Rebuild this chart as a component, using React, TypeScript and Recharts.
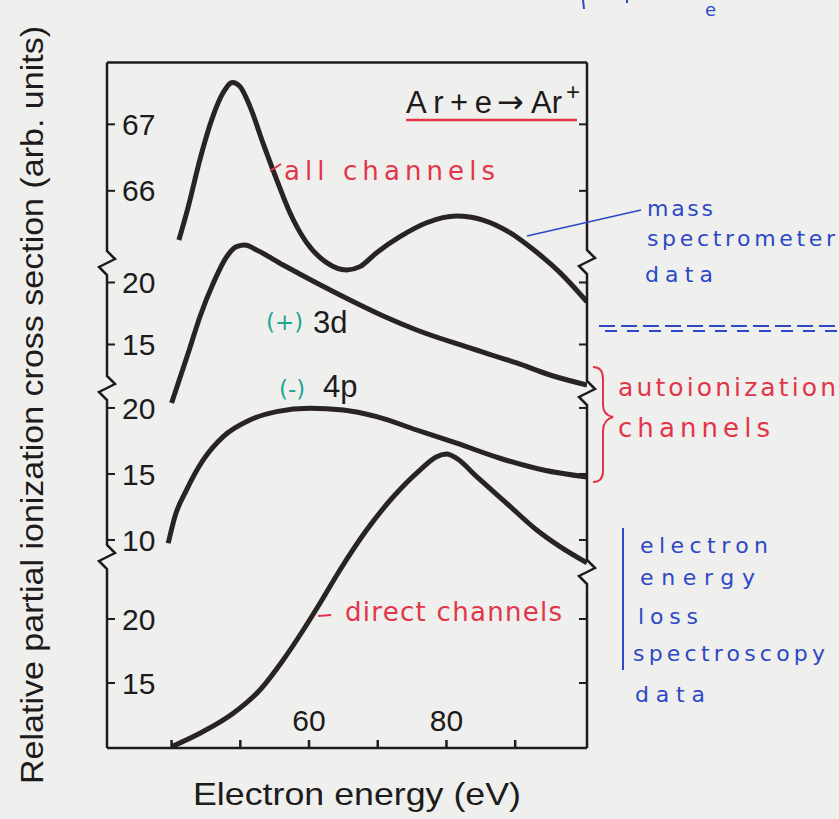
import React from "react";
import { LineChart, Line, XAxis, YAxis } from "recharts";

// energy axis (eV)
const energyTicks = [40, 50, 60, 70, 80, 90];
const energyLabels = [60, 80];

// tick values of the four stacked panels
const allTicks = [66, 67];
const d3Ticks = [15, 20];
const p4Ticks = [10, 15, 20];
const directTicks = [15, 20];

// all channels (mass spectrometer data)
const allEnergy = [41.06, 42.42, 44.12, 46.01, 47.47, 48.88, 49.94, 51.4, 53.29, 55.28, 57.22, 59.65, 62.56, 65.47, 67.41, 69.84, 73.23, 77.12, 81.48, 85.31, 89.24, 92.59, 96.52, 100.45];
const allValue = [65.26, 65.76, 66.47, 67.12, 67.47, 67.63, 67.57, 67.27, 66.72, 66.17, 65.67, 65.22, 64.92, 64.81, 64.86, 65.07, 65.31, 65.52, 65.62, 65.56, 65.37, 65.12, 64.77, 64.33];

// (+) 3d autoionization channel
const d3Energy = [40.0, 42.66, 44.12, 46.06, 48.01, 49.46, 50.67, 52.37, 56.24, 61.11, 65.95, 70.8, 75.66, 82.94, 90.22, 95.07, 100.45];
const d3Value = [10.28, 14.72, 17.24, 19.94, 22.08, 22.89, 23.02, 22.62, 21.41, 19.96, 18.59, 17.3, 16.17, 14.8, 13.51, 12.54, 11.73];

// (-) 4p autoionization channel
const p4Energy = [39.51, 40.48, 42.18, 44.6, 47.51, 51.4, 55.28, 60.13, 64.98, 69.84, 75.66, 81.48, 87.79, 94.09, 100.45];
const p4Value = [9.75, 11.77, 13.79, 16.06, 17.83, 19.09, 19.72, 19.98, 19.85, 19.34, 18.33, 17.33, 16.19, 15.3, 14.77];

// direct channels
const directEnergy = [40.0, 44.12, 48.97, 52.85, 56.24, 59.16, 61.59, 64.5, 68.38, 72.26, 76.14, 78.57, 80.03, 81.48, 84.4, 88.76, 93.13, 96.52, 100.45];
const directValue = [10.02, 11.07, 12.63, 14.45, 16.8, 19.14, 21.23, 23.83, 26.95, 29.55, 31.64, 32.68, 32.89, 32.55, 31.12, 29.04, 26.95, 25.65, 24.38];

const toPoints = (xs: number[], ys: number[]) => xs.map((e, i) => ({ e, v: ys[i] }));

const W = 839;
const H = 819;
const PL = 107;
const PR = 587;
const PT = 62.5;
const PB = 748;

const INK = "#1d1b1b";
const CURVE = "#2a2323";
const RED = "#e2354a";
const BLUE = "#2d48c6";
const TEAL = "#1ea58f";
const BG = "#efefed";
const SANS = "'Liberation Sans', Arial, sans-serif";
const HAND = "'DejaVu Sans', sans-serif";

// each panel gets its own value axis stretched over the whole plot height
const panels = [
  { id: "a", ticks: allTicks, domain: [57.62, 67.93], data: toPoints(allEnergy, allValue) },
  { id: "b", ticks: d3Ticks, domain: [-17.54, 37.74], data: toPoints(d3Energy, d3Value) },
  { id: "c", ticks: p4Ticks, domain: [-5.76, 46.17], data: toPoints(p4Energy, p4Value) },
  { id: "d", ticks: directTicks, domain: [9.92, 63.48], data: toPoints(directEnergy, directValue) },
];

const zig = (x: number, y: number) =>
  `L${x},${y - 12} L${x + 8},${y - 4} L${x - 8},${y + 4} L${x},${y + 12}`;

function Note({ x, y, w, color, size, children }: { x: number; y: number; w: number; color: string; size: number; children: string }) {
  return (
    <text x={x} y={y} fontFamily={HAND} fontSize={size} fill={color} textLength={w} lengthAdjust="spacing">
      {children}
    </text>
  );
}

function Overlay() {
  const leftBreaks = [263, 388, 557];
  const rightBreaks = [262, 393, 572];
  return (
    <svg width={W} height={H} style={{ position: "absolute", left: 0, top: 0, pointerEvents: "none" }}>
      {/* frame sides with axis breaks */}
      <path d={`M${PL},${PT} ${leftBreaks.map((y) => zig(PL, y)).join(" ")} L${PL},${PB}`} fill="none" stroke={INK} strokeWidth={2.5} />
      <path d={`M${PR},${PT} ${rightBreaks.map((y) => zig(PR, y)).join(" ")} L${PR},${PB}`} fill="none" stroke={INK} strokeWidth={2.5} />

      {/* axis titles */}
      <text transform="translate(43,405) rotate(-90)" textAnchor="middle" fontFamily={SANS} fontSize={32} fill={INK} textLength={758} lengthAdjust="spacingAndGlyphs">
        Relative partial ionization cross section (arb. units)
      </text>
      <text x={193} y={805} fontFamily={SANS} fontSize={32} fill={INK} textLength={328} lengthAdjust="spacingAndGlyphs">
        Electron energy (eV)
      </text>

      {/* reaction */}
      <text y={113} fontFamily={SANS} fontSize={31} fill={INK}>
        <tspan x={406} textLength={86} lengthAdjust="spacing">Ar+e</tspan>
        <tspan x={497} fontFamily={HAND} fontSize={32}>→</tspan>
        <tspan x={531}>Ar</tspan>
        <tspan x={566} dy={-13} fontSize={24}>+</tspan>
      </text>
      <line x1={406} y1={120} x2={577} y2={120} stroke={RED} strokeWidth={2.5} />

      {/* channel labels */}
      <text x={266} y={330} fontFamily={HAND} fontSize={23} fill={TEAL}>(+)</text>
      <text x={313} y={333} fontFamily={SANS} fontSize={31} fill={INK}>3d</text>
      <text x={279} y={397} fontFamily={HAND} fontSize={23} fill={TEAL}>(-)</text>
      <text x={323} y={397} fontFamily={SANS} fontSize={31} fill={INK}>4p</text>

      {/* red notes */}
      <line x1={270} y1={171} x2={281} y2={164} stroke={RED} strokeWidth={2} />
      <Note x={284} y={180} w={211} color={RED} size={26}>all channels</Note>
      <line x1={318} y1={616} x2={331} y2={615} stroke={RED} strokeWidth={2} />
      <Note x={345} y={621} w={217} color={RED} size={26}>direct channels</Note>
      <path d="M593,367 Q603,367 603,379 L603,405 Q603,415 613,417 Q603,420 603,431 L603,471 Q603,482 593,482" fill="none" stroke={RED} strokeWidth={2} />
      <Note x={618} y={396} w={218} color={RED} size={25}>autoionization</Note>
      <Note x={618} y={437} w={152} color={RED} size={26}>channels</Note>

      {/* blue notes */}
      <line x1={527} y1={236} x2={641} y2={210} stroke={BLUE} strokeWidth={1.5} />
      <Note x={647} y={216} w={66} color={BLUE} size={22}>mass</Note>
      <Note x={647} y={246} w={188} color={BLUE} size={22}>spectrometer</Note>
      <Note x={645} y={282} w={68} color={BLUE} size={22}>data</Note>
      <line x1={599} y1={326} x2={837} y2={326} stroke={BLUE} strokeWidth={2} strokeDasharray="16 6" />
      <line x1={605} y1={331} x2={837} y2={331} stroke={BLUE} strokeWidth={2} strokeDasharray="12 10" />
      <line x1={623} y1={528} x2={623} y2={670} stroke={BLUE} strokeWidth={2} />
      <Note x={640} y={553} w={128} color={BLUE} size={22}>electron</Note>
      <Note x={640} y={585} w={115} color={BLUE} size={22}>energy</Note>
      <Note x={638} y={624} w={60} color={BLUE} size={22}>loss</Note>
      <Note x={633} y={661} w={192} color={BLUE} size={22}>spectroscopy</Note>
      <Note x={635} y={702} w={70} color={BLUE} size={22}>data</Note>
      <line x1={583} y1={0} x2={584} y2={9} stroke={BLUE} strokeWidth={2} />
      <line x1={627} y1={0} x2={627} y2={3} stroke={BLUE} strokeWidth={2} />
      <text x={705} y={16} fontFamily={HAND} fontSize={18} fill={BLUE}>e</text>
    </svg>
  );
}

export default function App() {
  return (
    <div style={{ position: "absolute", left: 0, top: 0, width: W, height: H, background: BG }}>
      <LineChart width={W} height={H} margin={{ top: PT, right: W - PR, bottom: H - PB, left: PL }}>
        <XAxis
          xAxisId="bottom"
          orientation="bottom"
          mirror
          dataKey="e"
          type="number"
          domain={[30.6, 100.45]}
          allowDataOverflow
          ticks={energyTicks}
          interval={0}
          stroke={INK}
          strokeWidth={2.5}
          tickSize={8}
          tickMargin={9}
          tickFormatter={(v) => (energyLabels.includes(v) ? String(v) : "")}
          tick={{ fill: INK, fontSize: 30, fontFamily: SANS }}
        />
        <XAxis
          xAxisId="top"
          orientation="top"
          mirror
          dataKey="e"
          type="number"
          domain={[30.6, 100.45]}
          allowDataOverflow
          ticks={energyTicks}
          interval={0}
          stroke={INK}
          strokeWidth={2.5}
          tickSize={9}
          tick={false}
        />
        {panels.map((p) => (
          <YAxis
            key={p.id}
            yAxisId={p.id}
            orientation="left"
            mirror
            width={0.01}
            type="number"
            domain={p.domain}
            allowDataOverflow
            ticks={p.ticks}
            interval={0}
            axisLine={false}
            stroke={INK}
            strokeWidth={2}
            tickSize={8}
            tickMargin={7}
            tick={{ fill: INK, fontSize: 30, fontFamily: SANS }}
          />
        ))}
        {panels.map((p) => (
          <YAxis
            key={p.id + "r"}
            yAxisId={p.id + "r"}
            orientation="right"
            mirror
            width={0.01}
            type="number"
            domain={p.domain}
            allowDataOverflow
            ticks={p.ticks}
            interval={0}
            axisLine={false}
            stroke={INK}
            strokeWidth={2}
            tickSize={8}
            tickFormatter={() => ""}
          />
        ))}
        {panels.map((p) => (
          <Line
            key={"line-" + p.id}
            data={p.data}
            dataKey="v"
            xAxisId="bottom"
            yAxisId={p.id}
            type="monotone"
            stroke={CURVE}
            strokeWidth={5}
            dot={false}
            activeDot={false}
            isAnimationActive={false}
          />
        ))}
      </LineChart>
      <Overlay />
    </div>
  );
}
